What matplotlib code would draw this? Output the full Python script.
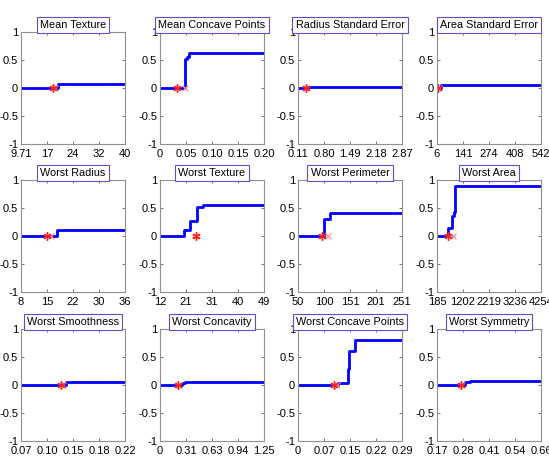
import numpy as np
import matplotlib
matplotlib.use('Agg')
import matplotlib.pyplot as plt

plt.rcParams['font.family'] = ['Liberation Sans', 'DejaVu Sans']

titles = ['Mean Texture', 'Mean Concave Points', 'Radius Standard Error', 'Area Standard Error',
          'Worst Radius', 'Worst Texture', 'Worst Perimeter', 'Worst Area',
          'Worst Smoothness', 'Worst Concavity', 'Worst Concave Points', 'Worst Symmetry']

x_min = [9.71, 0.0, 0.1115, 6.8, 7.93, 12.02, 50.41, 185.2, 0.0712, 0.0, 0.0, 0.1565]
x_max = [39.28, 0.2012, 2.873, 542.2, 36.04, 49.54, 251.2, 4254, 0.2226, 1.252, 0.291, 0.6638]

tick_labels = [
    ['9.71', '17', '24', '32', '40'],
    ['0', '0.05', '0.10', '0.15', '0.20'],
    ['0.11', '0.80', '1.49', '2.18', '2.87'],
    ['6', '141', '274', '408', '542'],
    ['8', '15', '22', '30', '36'],
    ['12', '21', '31', '40', '49'],
    ['50', '100', '151', '201', '251'],
    ['185', '1202', '2219', '3236', '4254'],
    ['0.07', '0.10', '0.15', '0.18', '0.22'],
    ['0', '0.31', '0.63', '0.94', '1.25'],
    ['0', '0.07', '0.15', '0.22', '0.29'],
    ['0.17', '0.28', '0.41', '0.54', '0.66'],
]

# step breakpoints (x where the value changes) and the value after each break
step_x = [
    [20.2],
    [0.049, 0.052, 0.056],
    [0.35],
    [28],
    [17.65],
    [20.5, 22.9, 25.3, 27.5],
    [101.2, 112.8],
    [632, 790, 850, 896],
    [0.137],
    [0.27, 0.30],
    [0.111, 0.139, 0.142, 0.160],
    [0.291, 0.316],
]
step_y = [
    [0.08],
    [0.52, 0.56, 0.62],
    [0.02],
    [0.05],
    [0.10],
    [0.11, 0.26, 0.52, 0.55],
    [0.31, 0.41],
    [0.14, 0.36, 0.42, 0.90],
    [0.06],
    [0.03, 0.06],
    [0.03, 0.29, 0.60, 0.81],
    [0.06, 0.08],
]

star_x = [18.8, 0.0325, 0.316, 14, 15.07, 25.1, 96.2, 632, 0.130, 0.215, 0.0999, 0.275]
cross_x = [19.4, 0.048, 0.33, 18, 16.1, 25.1, 108, 829, 0.132, 0.23, 0.108, 0.28]

fig = plt.figure(figsize=(5.49, 4.66), dpi=100)
W, H = 549.0, 466.0
col_left = [21, 160, 298, 437]
row_top = [32, 180, 329]
aw, ah = 104, 112

for i in range(12):
    r, c = divmod(i, 4)
    ax = fig.add_axes([col_left[c] / W, (H - row_top[r] - ah) / H, aw / W, ah / H])
    xs = [x_min[i]] + step_x[i] + [x_max[i]]
    ys = [0.0] + step_y[i] + [step_y[i][-1]]
    ax.step(xs, ys, where='post', color='#0000ff', lw=2.0)
    ax.plot([cross_x[i]], [0], marker='x', color='#ff9090', ms=5, mew=0.9, ls='none')
    ax.plot([star_x[i]], [0], marker=(6, 2, 0), color='#ff2020', ms=6, mew=1.0, ls='none')
    ax.set_xlim(x_min[i], x_max[i])
    ax.set_ylim(-1, 1)
    ax.set_xticks(np.linspace(x_min[i], x_max[i], 5))
    ax.set_xticklabels(tick_labels[i])
    ax.set_yticks([-1, -0.5, 0, 0.5, 1])
    ax.set_yticklabels(['-1', '-0.5', '0', '0.5', '1'])
    ax.tick_params(direction='in', length=2.5, width=0.6, top=True, right=True,
                   labelsize=8, pad=2, color='#606060')
    ax.tick_params(axis='x', pad=3.5)
    for sp in ax.spines.values():
        sp.set_color('#909090')
        sp.set_linewidth(0.8)
    ax.set_title(titles[i], fontsize=7.8, pad=3,
                 bbox=dict(boxstyle='square,pad=0.3', fc='white', ec='#5a50c8', lw=0.8))

fig.savefig('out.png', dpi=100)
